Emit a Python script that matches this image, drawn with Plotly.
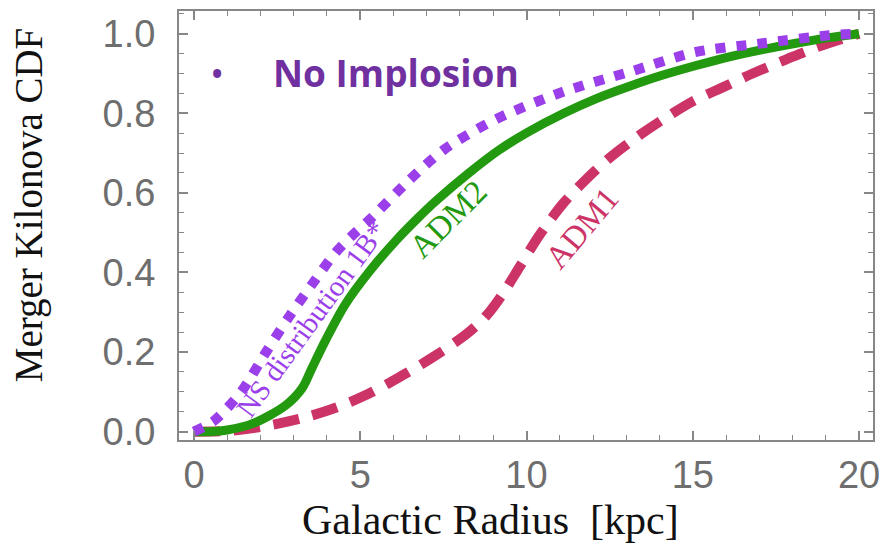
import plotly.graph_objects as go

# ---- data ----
ns_x = [0, 0.6, 1.42, 2.17, 2.87, 3.55, 4.26, 4.85, 5.25, 6.45, 7.54, 9.13, 11.1, 13.1, 15.1, 17.1, 19.1, 20]
ns_y = [0, 0.027, 0.10, 0.20, 0.29, 0.37, 0.45, 0.50, 0.53, 0.63, 0.71, 0.787, 0.854, 0.904, 0.954, 0.976, 0.996, 1.0]

adm2_x = [0, 0.5, 1.0, 1.76, 2.77, 3.26, 3.55, 3.96, 4.55, 5.25, 6.05, 6.75, 7.24, 8.24, 9.18, 10.03, 11.12, 12.1, 13.1, 14.1, 15.1, 16.1, 17.1, 18.1, 19.1, 20]
adm2_y = [0, 0.0, 0.004, 0.02, 0.067, 0.11, 0.16, 0.23, 0.32, 0.40, 0.478, 0.538, 0.577, 0.648, 0.708, 0.752, 0.80, 0.837, 0.868, 0.896, 0.92, 0.942, 0.96, 0.976, 0.99, 1.0]

adm1_x = [0, 1.07, 2.06, 3.26, 4.26, 5.25, 6.24, 7.24, 8.24, 8.8, 9.3, 9.8, 10.4, 11.12, 11.72, 12.5, 13.4, 14.15, 15.0, 15.95, 16.8, 17.8, 18.7, 20]
adm1_y = [0, 0.002, 0.0125, 0.034, 0.06, 0.095, 0.14, 0.19, 0.248, 0.292, 0.348, 0.415, 0.495, 0.575, 0.628, 0.688, 0.745, 0.787, 0.83, 0.867, 0.90, 0.935, 0.965, 1.0]

x_ticks = [0, 5, 10, 15, 20]
y_ticks = [0.0, 0.2, 0.4, 0.6, 0.8, 1.0]
y_tick_labels = ["0.0", "0.2", "0.4", "0.6", "0.8", "1.0"]

PURPLE = "#9B3FEA"
GREEN = "#23990F"
CRIMSON = "#CC3366"
FRAME = "#878787"
TICKTXT = "#6E6E6E"

fig = go.Figure()
fig.add_trace(go.Scatter(x=adm1_x, y=adm1_y, mode="lines", line=dict(color=CRIMSON, width=10, dash="26px,14px", shape="spline", smoothing=0.9), showlegend=False))
fig.add_trace(go.Scatter(x=adm2_x, y=adm2_y, mode="lines", line=dict(color=GREEN, width=9, shape="spline", smoothing=0.9), showlegend=False))
fig.add_trace(go.Scatter(x=ns_x, y=ns_y, mode="lines", line=dict(color=PURPLE, width=10, dash="10px,11px", shape="spline", smoothing=0.8), showlegend=False))

axis_common = dict(
    showline=True, linecolor=FRAME, linewidth=2, mirror="ticks",
    ticks="inside", ticklen=9, tickwidth=1.5, tickcolor=FRAME,
    showgrid=False, zeroline=False,
    tickfont=dict(family="Liberation Sans, Arial", size=38, color=TICKTXT),
)

fig.update_xaxes(range=[-0.45, 20.42], tickvals=x_ticks, ticktext=[str(v) for v in x_ticks],
                 minor=dict(dtick=1, ticks="inside", ticklen=5, tickwidth=1.2, tickcolor=FRAME, showgrid=False),
                 ticklabelstandoff=0, **axis_common)
fig.update_yaxes(range=[-0.021, 1.057], tickvals=y_ticks, ticktext=y_tick_labels,
                 minor=dict(dtick=0.05, tick0=0, ticks="inside", ticklen=5, tickwidth=1.2, tickcolor=FRAME, showgrid=False),
                 ticklabelstandoff=14, **axis_common)

annotations = [
    dict(text="Galactic Radius\u00a0\u00a0[kpc]", xref="paper", yref="paper", x=0.449, y=-0.186,
         xanchor="center", yanchor="middle",
         showarrow=False, font=dict(family="Liberation Serif, Times New Roman", size=42, color="#111111")),
    dict(text="Merger Kilonova CDF", xref="paper", yref="paper", x=-0.215, y=0.549, textangle=-90,
         xanchor="center", yanchor="middle",
         showarrow=False, font=dict(family="Liberation Serif, Times New Roman", size=39, color="#111111")),
    dict(text="NS distribution 1B*", xref="x", yref="y", x=3.52, y=0.284, textangle=-54,
         showarrow=False, font=dict(family="Liberation Serif, Times New Roman", size=29, color=PURPLE)),
    dict(text="ADM2", xref="x", yref="y", x=7.64, y=0.535, textangle=-45,
         showarrow=False, font=dict(family="Liberation Serif, Times New Roman", size=33, color=GREEN)),
    dict(text="ADM1", xref="x", yref="y", x=11.67, y=0.512, textangle=-50,
         showarrow=False, font=dict(family="Liberation Serif, Times New Roman", size=33, color=CRIMSON)),
    dict(text="\u2022", xref="paper", yref="paper", x=(217 - 179) / 699, y=(440 - 71) / 431,
         xanchor="center", yanchor="middle",
         showarrow=False, font=dict(family="Open Sans", size=38, color="#7030A0")),
    dict(text="<b>No Implosion</b>", xref="paper", yref="paper", x=(272 - 179) / 699, y=(440 - 71) / 431,
         xanchor="left", yanchor="middle", showarrow=False, font=dict(family="Open Sans", size=37, color="#7030A0")),
]

fig.update_layout(
    width=889, height=544,
    margin=dict(l=179, r=11, t=9, b=104),
    paper_bgcolor="white", plot_bgcolor="white",
    annotations=annotations,
)

fig.write_html("out.html")
